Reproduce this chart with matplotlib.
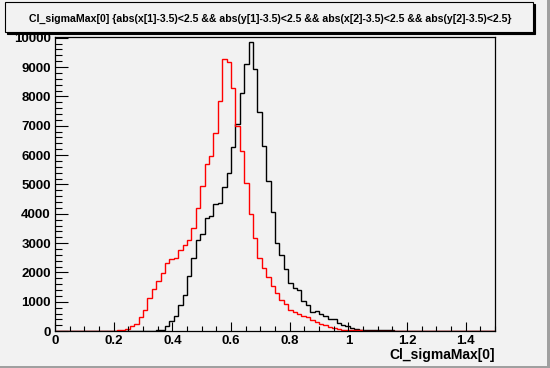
import numpy as np
import matplotlib
matplotlib.use('Agg')
import matplotlib.pyplot as plt
from matplotlib.patches import Rectangle
from matplotlib.ticker import MultipleLocator, FormatStrFormatter

# histogram: 100 bins between 0 and 1.5
x_min, x_max, n_bins = 0.0, 1.5, 100

# red histogram (bin contents)
red_counts = [0] * 10 + [
    8, 12, 15, 20, 30, 57, 91, 193, 261, 499,
    737, 1145, 1451, 1720, 1995, 2330, 2465, 2506, 2755, 2920,
    3100, 3526, 4200, 4932, 5680, 5960, 6760, 7840, 9274, 9184,
    8270, 7000, 6156, 5060, 4002, 3186, 2506, 2166, 1860, 1550,
    1290, 1077, 920, 737, 650, 585, 525, 470, 375, 318,
    255, 205, 150, 122, 88, 57, 45, 34, 30, 25,
    20,
] + [0] * 29

# black histogram (bin contents)
black_counts = [0] * 21 + [
    15, 20, 25, 57, 165, 335, 510, 880, 1250,
    1890, 2490, 3118, 3322, 3866, 3930, 4330, 4360, 4920, 5400,
    6270, 7063, 8118, 9104, 9864, 8934, 7470, 6320, 5125, 4070,
    3004, 2608, 2115, 1644, 1480, 1420, 1030, 880, 640, 680,
    600, 510, 400, 400, 280, 200, 170, 110, 60, 57,
    57, 34, 34, 30, 30, 28, 25, 22, 20, 20,
    15, 10,
] + [0] * 18

title = ("Cl_sigmaMax[0] {abs(x[1]-3.5)<2.5 && abs(y[1]-3.5)<2.5 && "
         "abs(x[2]-3.5)<2.5 && abs(y[2]-3.5)<2.5}")
xlabel = "Cl_sigmaMax[0]"

bg = '#f2f2f2'
plt.rcParams['font.family'] = ['Liberation Sans', 'DejaVu Sans']

fig = plt.figure(figsize=(5.5, 3.68), dpi=100, facecolor=bg)
ax = fig.add_axes([0.1, 0.1, 0.8, 0.8])
ax.set_facecolor(bg)

edges = np.linspace(x_min, x_max, n_bins + 1)
ax.stairs(black_counts, edges, color='black', lw=1.0)
ax.stairs(red_counts, edges, color='red', lw=1.0)

ax.set_xlim(x_min, x_max)
ax.set_ylim(0, 10030)

ax.xaxis.set_major_locator(MultipleLocator(0.2))
ax.xaxis.set_minor_locator(MultipleLocator(0.05))
ax.yaxis.set_major_locator(MultipleLocator(1000))
ax.yaxis.set_minor_locator(MultipleLocator(200))
ax.xaxis.set_major_formatter(FormatStrFormatter('%g'))
ax.yaxis.set_major_formatter(FormatStrFormatter('%g'))

ax.tick_params(axis='both', which='both', direction='in', width=0.8,
               top=False, right=False, labelsize=9.5)
ax.tick_params(axis='x', which='major', length=6.5, pad=3)
ax.tick_params(axis='x', which='minor', length=3.3)
ax.tick_params(axis='y', which='major', length=9.5, pad=3)
ax.tick_params(axis='y', which='minor', length=4.8)
for lab in ax.get_xticklabels() + ax.get_yticklabels():
    lab.set_fontweight('bold')
for sp in ax.spines.values():
    sp.set_linewidth(0.9)

fig.text(0.9, 0.024, xlabel, ha='right', va='baseline',
         fontsize=10, fontweight='bold')

# title box with shadow
shadow = Rectangle((0.0125, 0.9065), 0.96, 0.083, transform=fig.transFigure,
                   facecolor='black', edgecolor='black', lw=0.8, zorder=1)
box = Rectangle((0.009, 0.912), 0.96, 0.083, transform=fig.transFigure,
                facecolor=bg, edgecolor='black', lw=0.8, zorder=2)
fig.patches.extend([shadow, box])
fig.text(0.492, 0.949, title, ha='center', va='center',
         fontsize=7.6, fontweight='bold', zorder=3)

# canvas bevel
fig.patches.append(Rectangle((0, 0), 1, 0.006, transform=fig.transFigure,
                             facecolor='#a0a0a0', edgecolor='none'))
fig.patches.append(Rectangle((0.995, 0), 0.005, 1, transform=fig.transFigure,
                             facecolor='#a0a0a0', edgecolor='none'))

fig.savefig('out.png', dpi=100, facecolor=bg)
